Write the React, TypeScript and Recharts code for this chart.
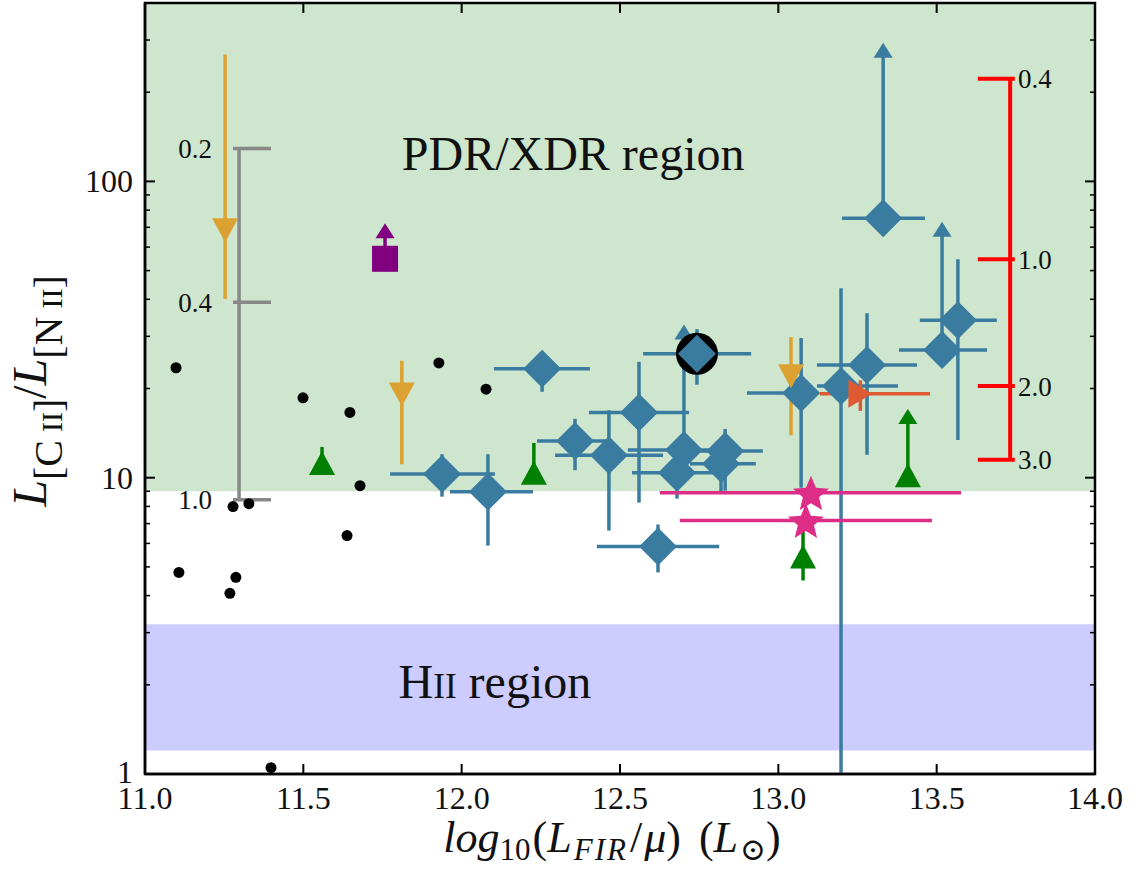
import {
  ScatterChart,
  Scatter,
  XAxis,
  YAxis,
  ErrorBar,
  ReferenceArea,
  ReferenceLine,
} from "recharts";

const FONT = '"Liberation Serif", "DejaVu Serif", serif';
const PLOT_TOP = 3;
const PLOT_LEFT = 145;
const PLOT_RIGHT = 1095;
const PLOT_BOTTOM = 774;

const BLUE = "#3a7ba0";
const ORANGE = "#dba232";
const GREEN = "#008000";
const PURPLE = "#800080";
const PINK = "#dd2d87";
const QSO = "#dd5a33";

const xTicks = [11, 11.5, 12, 12.5, 13, 13.5, 14];
const yTicks = [1, 2, 3, 4, 5, 6, 7, 8, 9, 10, 20, 30, 40, 50, 60, 70, 80, 90, 100, 200, 300, 400];
const yLabelled = [1, 10, 100];

const pdrBand = [9, 400];
const hiiBand = [1.2, 3.2];

// local galaxies: [log LFIR, ratio]
const localSample = [
  [11.098, 23.5], [11.107, 4.79], [11.268, 4.07], [11.287, 4.61], [11.278, 7.99],
  [11.328, 8.17], [11.398, 1.05], [11.499, 18.6], [11.647, 16.6], [11.679, 9.4],
  [11.638, 6.38], [11.928, 24.4], [12.077, 19.9],
];

// lensed sources: [x, y, xlo, xhi, ylo, yhi]
const lensedSample = [
  [12.254, 23.3, 12.102, 12.405, 19.5, 25.5],
  [12.560, 16.6, 12.402, 12.718, 8.24, 24.6],
  [12.358, 13.3, 12.238, 12.475, 10.6, 15.8],
  [12.465, 11.9, 12.295, 12.636, 6.63, 16.9],
  [12.680, 10.4, 12.538, 12.816, 8.5, 12.0],
  [12.832, 12.3, 12.753, 12.951, 9.04, 14.6],
  [12.819, 11.15, 12.721, 12.929, 8.9, 13.0],
  [12.083, 8.97, 11.963, 12.225, 5.9, 12.0],
  [11.938, 10.3, 11.774, 12.105, 8.63, 12.0],
  [12.620, 5.86, 12.427, 12.813, 4.79, 6.95],
  [13.072, 19.3, 12.901, 13.122, 9.25, 29.6],
  [13.198, 20.4, 13.122, 13.378, 1.0, 43.6],
  [13.280, 24.0, 13.122, 13.438, 11.95, 35.9],
  [13.567, 34.0, 13.447, 13.690, 13.4, 54.6],
];

// lensed lower limits: [x, y, xlo, xhi, arrow]
const lensedLimits = [
  [12.702, 12.4, 12.525, 12.879, 31.0],
  [13.517, 27.0, 13.381, 13.659, 68.9],
  [13.331, 75.1, 13.201, 13.463, 277],
];

const circledSource = [[12.743, 26.2, 12.573, 12.914, 20.6, 31.7]];

// upper limits: [x, y, ylo, yhi]
const orangeLimits = [
  [11.253, 68.4, 40.1, 268],
  [11.811, 19.1, 11.1, 24.8],
  [13.040, 22.0, 13.9, 29.8],
];

// [x, y, ylo, yhi]
const greenSample = [
  [11.559, 11.2, 11.2, 12.7],
  [12.228, 10.4, 10.4, 13.1],
  [13.078, 5.42, 4.5, 6.63],
];

// [x, y, arrow]
const greenLimit = [[13.409, 10.2, 16.1]];
const purpleLimit = [[11.758, 54.8, 68.1]];

// [x, y, xlo, xhi]
const starSample = [
  [13.103, 8.9, 12.626, 13.577],
  [13.087, 7.17, 12.689, 13.485],
];

// [x, y, xlo, xhi, ylo, yhi]
const qsoSample = [[13.259, 19.2, 13.131, 13.479, 16.8, 21.3]];

// metallicity bars
const grayBarX = 11.297;
const grayCap = [11.278, 11.398];
const grayMarks: [number, string][] = [[129, "0.2"], [39.1, "0.4"], [8.43, "1.0"]];
const redBarX = 13.732;
const redCap = [13.630, 13.747];
const redMarks: [number, string][] = [[222, "0.4"], [54.6, "1.0"], [20.4, "2.0"], [11.5, "3.0"]];

const regionLabels = [
  { x: 12.352, y: 108.9, head: "PDR/XDR region", small: "", tail: "" },
  { x: 12.105, y: 1.8, head: "H", small: "II", tail: " region" },
];

const errRows = (rows: number[][]) =>
  rows.map(([x, y, xlo, xhi, ylo, yhi]) => ({ x, y, ex: [x - xlo, xhi - x], ey: [y - ylo, yhi - y] }));

const yErrRows = (rows: number[][]) =>
  rows.map(([x, y, ylo, yhi]) => ({ x, y, ey: [y - ylo, yhi - y] }));

const limitRows = (rows: number[][]) =>
  rows.map(([x, y, xlo, xhi, tip]) => ({ x, y, ex: [x - xlo, xhi - x], ey: [0, tip - y] }));

const arrowRows = (rows: number[][], tipIdx: number) => rows.map((r) => ({ x: r[0], y: r[tipIdx] }));

const diamondPts = (cx: number, cy: number, r: number) =>
  `${cx},${cy - r} ${cx + r},${cy} ${cx},${cy + r} ${cx - r},${cy}`;

const Diamond = ({ cx, cy }: any) => <polygon points={diamondPts(cx, cy, 19)} fill={BLUE} />;

const CircledDiamond = ({ cx, cy }: any) => (
  <g>
    <circle cx={cx} cy={cy} r={21} fill="#000" />
    <polygon points={diamondPts(cx, cy, 19)} fill={BLUE} />
  </g>
);

const tri = (cx: number, cy: number, w: number, h: number, down: boolean) =>
  down
    ? `${cx},${cy + h / 2} ${cx - w / 2},${cy - h / 2} ${cx + w / 2},${cy - h / 2}`
    : `${cx},${cy - h / 2} ${cx - w / 2},${cy + h / 2} ${cx + w / 2},${cy + h / 2}`;

const makeTriangle = (fill: string, down: boolean) => ({ cx, cy }: any) => (
  <polygon points={tri(cx, cy, 26, 24, down)} fill={fill} />
);

const makeArrowHead = (fill: string) => ({ cx, cy }: any) => (
  <polygon points={tri(cx, cy, 19, 15, false)} fill={fill} />
);

const Square = ({ cx, cy }: any) => <rect x={cx - 13} y={cy - 13} width={26} height={26} fill={PURPLE} />;

const Dot = ({ cx, cy }: any) => <circle cx={cx} cy={cy} r={5.5} fill="#000" />;

const Star = ({ cx, cy }: any) => {
  const pts: string[] = [];
  for (let i = 0; i < 10; i++) {
    const r = i % 2 === 0 ? 19 : 8.5;
    const a = -Math.PI / 2 + (i * Math.PI) / 5;
    pts.push(`${cx + r * Math.cos(a)},${cy + 2 + r * Math.sin(a)}`);
  }
  return <polygon points={pts.join(" ")} fill={PINK} />;
};

const RightTriangle = ({ cx, cy }: any) => (
  <polygon points={`${cx + 12},${cy} ${cx - 12},${cy - 14} ${cx - 12},${cy + 14}`} fill={QSO} />
);

const RegionText = ({ cx, cy, payload }: any) => (
  <text x={cx} y={cy} textAnchor="middle" fontFamily={FONT} fontSize={48} fill="#111">
    {payload.head}
    {payload.small && <tspan fontSize={35}>{payload.small}</tspan>}
    {payload.tail && <tspan>{payload.tail}</tspan>}
  </text>
);

const XTick = ({ x, y, payload }: any) => (
  <g>
    <line x1={x} x2={x} y1={y} y2={y - 10} stroke="#000" strokeWidth={2} />
    <line x1={x} x2={x} y1={PLOT_TOP} y2={PLOT_TOP + 10} stroke="#000" strokeWidth={2} />
    <text x={x} y={y + 35} textAnchor="middle" fontFamily={FONT} fontSize={32} fill="#111">
      {payload.value.toFixed(1)}
    </text>
  </g>
);

const YTick = ({ x, y, payload }: any) => {
  const major = yLabelled.includes(payload.value);
  const len = major ? 10 : 5;
  return (
    <g>
      <line x1={x} x2={x + len} y1={y} y2={y} stroke="#000" strokeWidth={major ? 2 : 1.5} />
      <line x1={PLOT_RIGHT} x2={PLOT_RIGHT - len} y1={y} y2={y} stroke="#000" strokeWidth={major ? 2 : 1.5} />
      {major && (
        <text x={x - 12} y={y + (payload.value === 1 ? 9 : 11)} textAnchor="end" fontFamily={FONT} fontSize={32} fill="#111">
          {payload.value}
        </text>
      )}
    </g>
  );
};

const XTitle = () => (
  <text x={612} y={852} textAnchor="middle" fontFamily={FONT} fontSize={44} fill="#111">
    <tspan fontStyle="italic">log</tspan>
    <tspan fontSize={31} dy={8}>10</tspan>
    <tspan dy={-8} dx={2}>(</tspan>
    <tspan fontStyle="italic">L</tspan>
    <tspan fontSize={31} fontStyle="italic" dy={8} dx={2} letterSpacing={2}>FIR</tspan>
    <tspan dy={-8} dx={2}>/</tspan>
    <tspan fontStyle="italic" dx={2}>μ</tspan>
    <tspan>)</tspan>
    <tspan dx={18}>(</tspan>
    <tspan fontStyle="italic">L</tspan>
    <tspan fontSize={31} dy={8} dx={2}>⊙</tspan>
    <tspan dy={-8}>)</tspan>
  </text>
);

const YTitle = () => (
  <text transform="rotate(-90 46 391)" x={46} y={391} textAnchor="middle" fontFamily={FONT} fontSize={48} fill="#111">
    <tspan fontStyle="italic">L</tspan>
    <tspan fontSize={40} dy={16}>[C</tspan>
    <tspan fontSize={30} dx={8}>II</tspan>
    <tspan fontSize={40}>]</tspan>
    <tspan dy={-16}>/</tspan>
    <tspan fontStyle="italic">L</tspan>
    <tspan fontSize={40} dy={16}>[N</tspan>
    <tspan fontSize={30} dx={8}>II</tspan>
    <tspan fontSize={40}>]</tspan>
  </text>
);

const barLabel = (value: string, position: "left" | "right", offset: number) => ({
  value,
  position,
  offset,
  fontSize: 27,
  fontFamily: FONT,
  fill: "#111",
});

export default function App() {
  const lensed = errRows(lensedSample);
  const limits = limitRows(lensedLimits);
  const circled = errRows(circledSource);
  const orange = yErrRows(orangeLimits);
  const green = yErrRows(greenSample);
  const greenUp = limitRows(greenLimit.map(([x, y, t]) => [x, y, x, x, t]));
  const purpleUp = limitRows(purpleLimit.map(([x, y, t]) => [x, y, x, x, t]));
  const stars = starSample.map(([x, y, xlo, xhi]) => ({ x, y, ex: [x - xlo, xhi - x] }));
  const qso = errRows(qsoSample);
  const local = localSample.map(([x, y]) => ({ x, y }));

  return (
    <div style={{ position: "absolute", left: 0, top: 0, background: "#fff" }}>
      <ScatterChart
        width={1143}
        height={873}
        margin={{ top: PLOT_TOP, right: 1143 - PLOT_RIGHT, bottom: 0, left: 0 }}
      >
        <XAxis
          dataKey="x"
          type="number"
          domain={[11, 14]}
          ticks={xTicks}
          interval={0}
          allowDataOverflow
          height={873 - PLOT_BOTTOM}
          tickSize={0}
          tickMargin={0}
          tickLine={false}
          tick={<XTick />}
          axisLine={{ stroke: "#000", strokeWidth: 2.5 }}
          label={<XTitle />}
        />
        <YAxis
          dataKey="y"
          type="number"
          scale="log"
          domain={[1, 400]}
          ticks={yTicks}
          interval={0}
          allowDataOverflow
          width={PLOT_LEFT}
          tickSize={0}
          tickMargin={0}
          tickLine={false}
          tick={<YTick />}
          axisLine={{ stroke: "#000", strokeWidth: 2.5 }}
          label={<YTitle />}
        />

        <ReferenceArea y1={pdrBand[0]} y2={pdrBand[1]} fill="#cde6cd" fillOpacity={1} stroke="none" />
        <ReferenceArea y1={hiiBand[0]} y2={hiiBand[1]} fill="#ccccff" fillOpacity={1} stroke="none" />

        <ReferenceLine
          segment={[{ x: grayBarX, y: grayMarks[0][0] }, { x: grayBarX, y: grayMarks[grayMarks.length - 1][0] }]}
          stroke="#888"
          strokeWidth={3.5}
        />
        {grayMarks.map(([y, t]) => (
          <ReferenceLine
            key={`g${t}`}
            segment={[{ x: grayCap[0], y }, { x: grayCap[1], y }]}
            stroke="#888"
            strokeWidth={3.5}
            label={barLabel(t, "left", 21)}
          />
        ))}
        <ReferenceLine
          segment={[{ x: redBarX, y: redMarks[0][0] }, { x: redBarX, y: redMarks[redMarks.length - 1][0] }]}
          stroke="#ff0000"
          strokeWidth={4}
        />
        {redMarks.map(([y, t]) => (
          <ReferenceLine
            key={`r${t}`}
            segment={[{ x: redCap[0], y }, { x: redCap[1], y }]}
            stroke="#ff0000"
            strokeWidth={4}
            label={barLabel(t, "right", 3)}
          />
        ))}

        <Scatter data={local} shape={Dot} isAnimationActive={false} />

        <Scatter data={lensed} shape={Diamond} isAnimationActive={false}>
          <ErrorBar dataKey="ex" direction="x" width={0} stroke={BLUE} strokeWidth={3.5} />
          <ErrorBar dataKey="ey" direction="y" width={0} stroke={BLUE} strokeWidth={3.5} />
        </Scatter>
        <Scatter data={arrowRows(lensedLimits, 4)} shape={makeArrowHead(BLUE)} isAnimationActive={false} />
        <Scatter data={limits} shape={Diamond} isAnimationActive={false}>
          <ErrorBar dataKey="ex" direction="x" width={0} stroke={BLUE} strokeWidth={3.5} />
          <ErrorBar dataKey="ey" direction="y" width={0} stroke={BLUE} strokeWidth={3.5} />
        </Scatter>
        <Scatter data={circled} shape={CircledDiamond} isAnimationActive={false}>
          <ErrorBar dataKey="ex" direction="x" width={0} stroke={BLUE} strokeWidth={3.5} />
          <ErrorBar dataKey="ey" direction="y" width={0} stroke={BLUE} strokeWidth={3.5} />
        </Scatter>

        <Scatter data={qso} shape={RightTriangle} isAnimationActive={false}>
          <ErrorBar dataKey="ex" direction="x" width={0} stroke={QSO} strokeWidth={3.5} />
          <ErrorBar dataKey="ey" direction="y" width={0} stroke={QSO} strokeWidth={3.5} />
        </Scatter>

        <Scatter data={orange} shape={makeTriangle(ORANGE, true)} isAnimationActive={false}>
          <ErrorBar dataKey="ey" direction="y" width={0} stroke={ORANGE} strokeWidth={3.5} />
        </Scatter>

        <Scatter data={green} shape={makeTriangle(GREEN, false)} isAnimationActive={false}>
          <ErrorBar dataKey="ey" direction="y" width={0} stroke={GREEN} strokeWidth={3.5} />
        </Scatter>
        <Scatter data={greenUp} shape={makeTriangle(GREEN, false)} isAnimationActive={false}>
          <ErrorBar dataKey="ey" direction="y" width={0} stroke={GREEN} strokeWidth={3.5} />
        </Scatter>
        <Scatter data={arrowRows(greenLimit, 2)} shape={makeArrowHead(GREEN)} isAnimationActive={false} />

        <Scatter data={purpleUp} shape={Square} isAnimationActive={false}>
          <ErrorBar dataKey="ey" direction="y" width={0} stroke={PURPLE} strokeWidth={3.5} />
        </Scatter>
        <Scatter data={arrowRows(purpleLimit, 2)} shape={makeArrowHead(PURPLE)} isAnimationActive={false} />

        <Scatter data={stars} shape={Star} isAnimationActive={false}>
          <ErrorBar dataKey="ex" direction="x" width={0} stroke={PINK} strokeWidth={3.5} />
        </Scatter>

        <Scatter data={regionLabels} shape={RegionText} isAnimationActive={false} />

        <ReferenceArea x1={11} x2={14} y1={1} y2={400} fill="none" stroke="#000" strokeWidth={2.5} />
      </ScatterChart>
    </div>
  );
}
